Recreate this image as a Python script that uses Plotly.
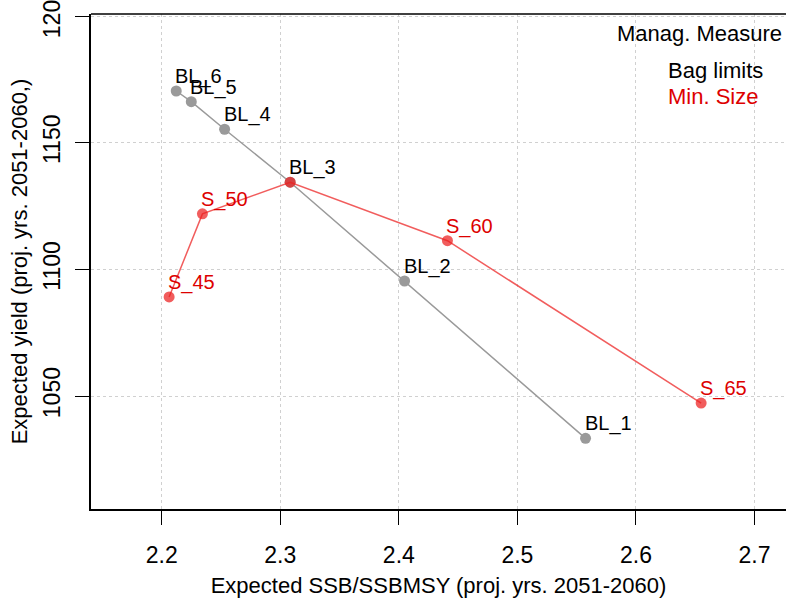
import plotly.graph_objects as go

# bag limit scenarios
bl_names = ["BL_1", "BL_2", "BL_3", "BL_4", "BL_5", "BL_6"]
bl_ssb = [2.5575, 2.4048, 2.3083, 2.2530, 2.2249, 2.2122]
bl_yield = [1033.3, 1095.4, 1134.4, 1155.3, 1166.2, 1170.4]

# minimum size scenarios (the 55 one sits on BL_3)
ms_names = ["S_45", "S_50", "", "S_60", "S_65"]
ms_ssb = [2.2062, 2.2343, 2.3083, 2.4410, 2.6550]
ms_yield = [1089.1, 1121.9, 1134.4, 1111.3, 1047.2]

x_ticks = [2.2, 2.3, 2.4, 2.5, 2.6, 2.7]
y_ticks = [1000, 1050, 1100, 1150, 1200]

FONT = "Liberation Sans, Arial, sans-serif"
GREY = "#9a9a9a"
RED = "rgba(235,30,30,0.72)"

W, H = 786, 598
L, R, T, B = 91, 0, 14, 89
pw, ph = W - L - R, H - T - B

fig = go.Figure()

fig.add_trace(go.Scatter(x=bl_ssb, y=bl_yield, mode="lines+markers",
                         line=dict(color=GREY, width=1.5),
                         marker=dict(color=GREY, size=11),
                         showlegend=False, hoverinfo="skip"))
fig.add_trace(go.Scatter(x=ms_ssb, y=ms_yield, mode="lines+markers",
                         line=dict(color=RED, width=1.5),
                         marker=dict(color=RED, size=11),
                         showlegend=False, hoverinfo="skip"))

# point labels, left edge at the point, sitting just above it
for nm, xx, yy in zip(bl_names, bl_ssb, bl_yield):
    fig.add_annotation(x=xx, y=yy, text=nm, showarrow=False,
                       xanchor="left", yanchor="bottom", xshift=-3, yshift=1,
                       font=dict(family=FONT, size=20, color="black"))
for nm, xx, yy in zip(ms_names, ms_ssb, ms_yield):
    if nm:
        fig.add_annotation(x=xx, y=yy, text=nm, showarrow=False,
                           xanchor="left", yanchor="bottom", xshift=-3, yshift=1,
                           font=dict(family=FONT, size=20, color="#dd0000"))


def px_x(v):
    return (v - L) / pw


def px_y(v):
    return 1 - (v - T) / ph


# legend box (text only, like the R legend with no symbols)
fig.add_annotation(x=px_x(699), y=px_y(33), xref="paper", yref="paper", text="Manag. Measure",
                   showarrow=False, xanchor="center", yanchor="middle",
                   font=dict(family=FONT, size=22, color="black"))
fig.add_annotation(x=px_x(666), y=px_y(70), xref="paper", yref="paper", text="Bag limits",
                   showarrow=False, xanchor="left", yanchor="middle",
                   font=dict(family=FONT, size=22, color="black"))
fig.add_annotation(x=px_x(666), y=px_y(97), xref="paper", yref="paper", text="Min. Size",
                   showarrow=False, xanchor="left", yanchor="middle",
                   font=dict(family=FONT, size=22, color="#dd0000"))

# top edge of the box (right edge is off the picture)
fig.add_shape(type="line", xref="paper", yref="paper", x0=0, x1=1, y0=1, y1=1,
              line=dict(color="black", width=1.5))

fig.update_layout(
    width=W, height=H,
    margin=dict(l=L, r=R, t=T, b=B),
    plot_bgcolor="white", paper_bgcolor="white",
    font=dict(family=FONT, size=23, color="black"),
)
fig.update_xaxes(range=[2.1403, 2.7266], tickvals=x_ticks, ticktext=[str(v) for v in x_ticks],
                 showgrid=True, gridcolor="#d0d0d0", griddash="dot", gridwidth=1,
                 showline=True, linecolor="black", linewidth=1.5, mirror=False,
                 ticks="outside", ticklen=14, tickcolor="black", tickwidth=1.2,
                 ticklabelstandoff=11, zeroline=False, automargin=False,
                 title=dict(text="Expected SSB/SSBMSY (proj. yrs. 2051-2060)",
                            font=dict(size=22), standoff=14))
fig.update_yaxes(range=[1005.4, 1200.8], tickvals=y_ticks, ticktext=[str(v) for v in y_ticks],
                 showgrid=True, gridcolor="#d0d0d0", griddash="dot", gridwidth=1,
                 showline=True, linecolor="black", linewidth=1.5, mirror=False,
                 ticks="outside", ticklen=14, tickcolor="black", tickwidth=1.2,
                 tickangle=-90, ticklabelstandoff=6, ticklabeloverflow="allow",
                 zeroline=False, automargin=False,
                 title=dict(text="Expected yield (proj. yrs. 2051-2060,)",
                            font=dict(size=22), standoff=5))

fig.write_html("out.html", config={"displayModeBar": False},
               post_script="document.body.style.margin='0';")
